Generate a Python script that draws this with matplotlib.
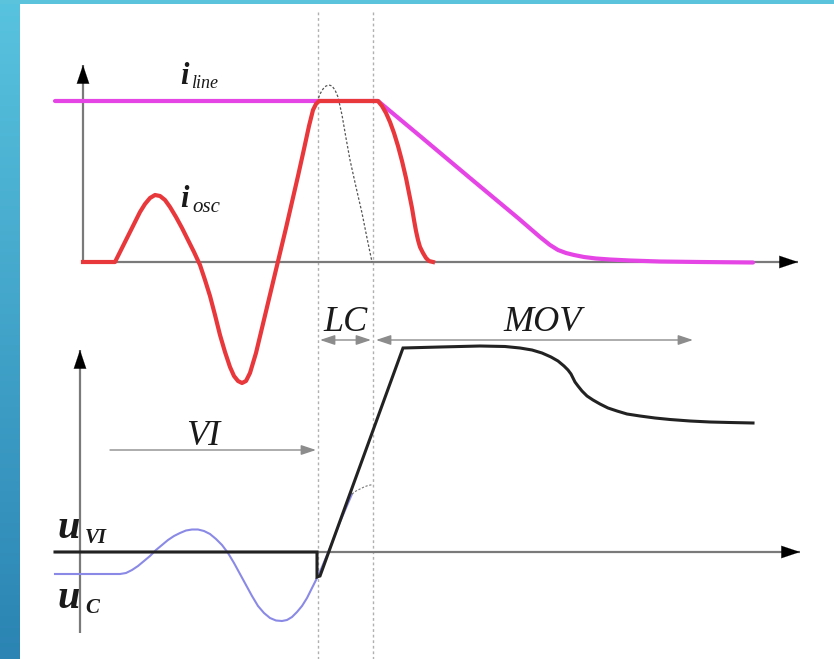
import numpy as np
import matplotlib
matplotlib.use("Agg")
import matplotlib.pyplot as plt
from matplotlib.colors import LinearSegmentedColormap

# ---- data (in picture units) ----
iline_x = [55, 378, 420, 470, 518, 540, 550, 558, 566, 574, 584, 596, 610, 630, 660, 700, 753]
iline_y = [101, 101, 136, 178, 218, 237, 245, 250, 253, 255, 257, 258.5, 259.5, 260.5, 261.5, 262, 262.5]

iosc_x = [83, 115, 120, 125, 130, 135, 140, 145, 150, 155, 160, 165, 170, 176, 182, 188,
          194, 200, 205, 210, 215, 220, 225, 230, 234, 238, 242, 246, 250, 256, 262, 268,
          274, 280, 286, 292, 298, 304, 309, 313, 316, 319, 378, 382, 386, 390, 394, 398,
          402, 406, 409, 412, 414, 416, 418, 420, 423, 426, 429, 433]
iosc_y = [262, 262, 252, 242, 232, 222, 212, 204, 198, 195, 196, 200, 207, 217, 228, 240,
          252, 265, 280, 296, 315, 335, 352, 367, 376, 381, 383, 381, 373, 353, 328, 303,
          278, 253, 228, 202, 176, 149, 126, 110, 104, 101, 101, 106, 113, 122, 133, 146,
          161, 178, 193, 208, 220, 231, 240, 247, 253, 258, 261, 262]

ilc_x = [317, 320, 323, 326, 329, 332, 335, 338, 342, 346, 350, 356, 362, 367, 372]
ilc_y = [102, 94, 89, 86, 85, 86, 90, 97, 115, 138, 160, 187, 213, 238, 262]

uvi_x = [55, 317, 317, 320, 403, 440, 480, 505, 520, 532, 542, 551, 558, 564, 568, 571,
         573, 575, 578, 582, 587, 593, 600, 608, 617, 627, 640, 655, 670, 690, 710, 730, 753]
uvi_y = [552, 552, 577, 576, 348, 347, 346, 346.5, 348, 350, 353, 357, 361, 366, 370, 374,
         378, 382, 386, 391, 396, 400, 404, 408, 411, 414, 416, 418, 419.5, 421, 422, 422.5, 423]

uc_x = [55, 120, 126, 132, 138, 144, 150, 156, 162, 168, 174, 180, 186, 192, 198, 204,
        210, 216, 222, 228, 234, 240, 246, 252, 258, 264, 270, 276, 282, 287, 292, 297,
        302, 307, 311, 315, 319, 330, 340, 352]
uc_y = [574, 574, 573, 570, 566, 561, 556, 550, 545, 540, 536, 533, 530.5, 529.5, 529.5, 531,
        534, 539, 545, 553, 563, 574, 585, 596, 606, 613, 618, 620.5, 621, 620, 617, 612,
        606, 598, 590, 582, 574, 548, 522, 494]

ucd_x = [352, 356, 360, 364, 368, 373]
ucd_y = [494, 491, 489, 487, 485.5, 484.5]

vlines_x = [318, 373]

# ---- figure ----
W, H = 834, 659
fig = plt.figure(figsize=(W / 100, H / 100), dpi=100)
ax = fig.add_axes([0, 0, 1, 1])
ax.set_xlim(0, W)
ax.set_ylim(H, 0)
ax.axis("off")

# frame
cmap = LinearSegmentedColormap.from_list("b", ["#58c3df", "#2b84b3"])
grad = np.linspace(0, 1, 256).reshape(-1, 1)
ax.imshow(grad, cmap=cmap, extent=[0, 20, H, 0], aspect="auto", zorder=0)
ax.fill_between([0, W], [0, 0], [3.5, 3.5], color="#5bc3dc", zorder=0, lw=0)

axis_col = "#7a7a7a"
# dotted separators
for xv in vlines_x:
    ax.plot([xv, xv], [12, H], color="#b0b0b0", lw=1.0, ls=(0, (2, 2)), zorder=1)

def arrow_axis(x0, y0, x1, y1):
    ax.plot([x0, x1], [y0, y1], color=axis_col, lw=1.6, zorder=2, solid_capstyle="butt")
    dx = -17 if y0 == y1 else 0
    dy = 17 if x0 == x1 else 0
    ax.annotate("", xy=(x1, y1), xytext=(x1 + dx, y1 + dy),
                arrowprops=dict(arrowstyle="-|>,head_length=0.95,head_width=0.32",
                                color="black", lw=0.1, mutation_scale=14,
                                shrinkA=0, shrinkB=0), zorder=3)

# top axes
arrow_axis(83, 263, 83, 65)
arrow_axis(83, 262, 798, 262)
# bottom axes
arrow_axis(80, 633, 80, 350)
arrow_axis(55, 552, 800, 552)

# curves
ax.plot(ilc_x, ilc_y, color="#555555", lw=0.9, ls=(0, (2, 1.5)), zorder=4)
ax.plot(iline_x, iline_y, color="#e645e6", lw=3.0, zorder=5, solid_capstyle="round",
        solid_joinstyle="round")
ax.plot(iosc_x, iosc_y, color="#e8383c", lw=3.0, zorder=6, solid_joinstyle="round")
ax.plot(uc_x, uc_y, color="#8a8ae6", lw=1.5, zorder=5, solid_joinstyle="round")
ax.plot(ucd_x, ucd_y, color="#777777", lw=0.8, ls=(0, (2, 1.5)), zorder=5)
ax.plot(uvi_x, uvi_y, color="#222222", lw=2.2, zorder=6, solid_joinstyle="miter")

# interval arrows
acol = "#8c8c8c"
def harrow(x0, x1, y, style):
    ax.annotate("", xy=(x1, y), xytext=(x0, y),
                arrowprops=dict(arrowstyle=style + ",head_length=0.9,head_width=0.3",
                                color=acol, lw=1.0, mutation_scale=10, shrinkA=0, shrinkB=0))
harrow(320, 371, 340, "<|-|>")
harrow(376, 693, 340, "<|-|>")
harrow(110, 316, 450, "-|>")

# texts
serif = "Liberation Serif"
def t(x, y, s, size, bold=False):
    ax.text(x, y, s, fontsize=size, family=serif, style="italic",
            weight="bold" if bold else "normal", ha="left", va="baseline", color="#1a1a1a")

t(180, 84, "i", 22, True)
t(191, 88, "line", 13)
t(180, 207, "i", 22, True)
t(192, 212, "osc", 15)
t(323, 331, "LC", 26)
t(503, 331, "MOV", 26)
t(186, 445, "VI", 26)
t(58, 538, "u", 29, True)
t(85, 543, "VI", 15, True)
t(58, 608, "u", 29, True)
t(85, 613, "C", 15, True)

fig.savefig("out.png", dpi=100)
